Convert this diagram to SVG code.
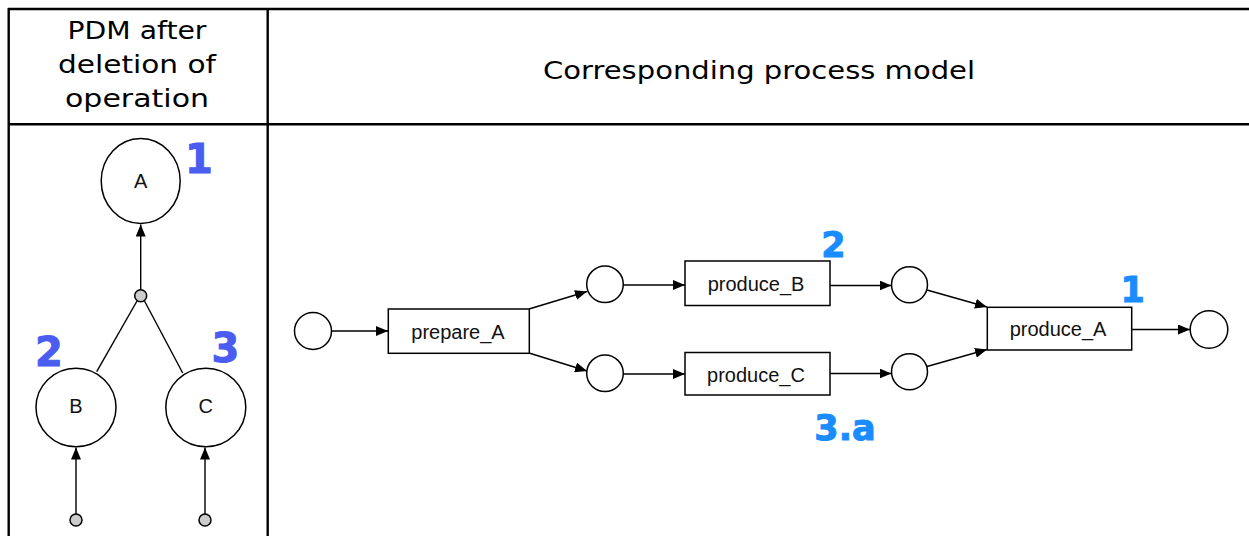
<svg xmlns="http://www.w3.org/2000/svg" width="1249" height="536" viewBox="0 0 1249 536">
<style>
.grid{stroke:#000;stroke-width:2.4;fill:none}
.hdr{font-family:"DejaVu Sans",Verdana,sans-serif;font-size:25px;fill:#000;text-anchor:middle}
.place{fill:#fff;stroke:#000;stroke-width:1.5}
.hub{fill:#cccccc;stroke:#000;stroke-width:1.5}
.task{fill:#fff;stroke:#000;stroke-width:1.5}
.lbl{font-family:"Liberation Sans",Arial,sans-serif;font-size:20px;fill:#111;text-anchor:middle}
.edge{stroke:#000;stroke-width:1.4;fill:none}
.arrow{marker-end:url(#ah)}
.numL{font-family:"DejaVu Sans",Verdana,sans-serif;font-weight:bold;font-size:40px;fill:#4b5cf0;stroke:#4b5cf0;stroke-width:1;text-anchor:middle}
.numR{font-family:"DejaVu Sans",Verdana,sans-serif;font-weight:bold;font-size:35px;fill:#1a8cff;stroke:#1a8cff;stroke-width:1;text-anchor:middle}
</style>
<defs>
<marker id="ah" viewBox="0 0 12 10" refX="12" refY="5" markerWidth="12" markerHeight="10" markerUnits="userSpaceOnUse" orient="auto">
<path d="M0,0 L12,5 L0,10 z" fill="#000"/>
</marker>
</defs>
<rect width="1249" height="536" fill="#fff"/>
<g id="table">
<line class="grid" x1="8" y1="9" x2="1249" y2="9"/>
<line class="grid" x1="8" y1="124.3" x2="1249" y2="124.3"/>
<line class="grid" x1="8.7" y1="8" x2="8.7" y2="536"/>
<line class="grid" x1="267.7" y1="8" x2="267.7" y2="536"/>
<text class="hdr" x="137" y="39" textLength="139" lengthAdjust="spacingAndGlyphs">PDM after</text>
<text class="hdr" x="137" y="73" textLength="158" lengthAdjust="spacingAndGlyphs">deletion of</text>
<text class="hdr" x="137" y="107" textLength="144" lengthAdjust="spacingAndGlyphs">operation</text>
<text class="hdr" x="759" y="79" textLength="432" lengthAdjust="spacingAndGlyphs">Corresponding process model</text>
</g>
<g id="connectors">
<line class="edge arrow" x1="140.7" y1="289.7" x2="140.7" y2="224.5"/>
<line class="edge" x1="137" y1="301" x2="96.7" y2="371.7"/>
<line class="edge" x1="144.5" y1="301" x2="182.7" y2="373"/>
<line class="edge arrow" x1="76" y1="514" x2="76" y2="447.5"/>
<line class="edge arrow" x1="205" y1="514" x2="205" y2="447.5"/>
<line class="edge arrow" x1="331.5" y1="331" x2="388" y2="331"/>
<line class="edge arrow" x1="529" y1="309" x2="587" y2="291.5"/>
<line class="edge arrow" x1="529" y1="353" x2="587" y2="371"/>
<line class="edge arrow" x1="623.3" y1="285" x2="685" y2="285"/>
<line class="edge arrow" x1="623.3" y1="374" x2="685" y2="374"/>
<line class="edge arrow" x1="830" y1="285.5" x2="891.5" y2="285.5"/>
<line class="edge arrow" x1="830" y1="373.5" x2="891.5" y2="373.5"/>
<line class="edge arrow" x1="927" y1="290" x2="987" y2="307"/>
<line class="edge arrow" x1="927" y1="366.5" x2="987" y2="349.5"/>
<line class="edge arrow" x1="1132" y1="329.5" x2="1190" y2="329.5"/>
</g>
<g id="pdm-A"><ellipse class="place" cx="140.7" cy="181" rx="39.5" ry="42.5"/><text class="lbl" x="140.7" y="188">A</text></g>
<g id="pdm-B"><ellipse class="place" cx="76" cy="407.5" rx="40" ry="39.2"/><text class="lbl" x="76" y="413">B</text></g>
<g id="pdm-C"><ellipse class="place" cx="205.8" cy="407.5" rx="40" ry="39.2"/><text class="lbl" x="205.8" y="413">C</text></g>
<g id="pdm-op"><circle class="hub" cx="140.7" cy="295.7" r="6"/></g>
<g id="pdm-inB"><circle class="hub" cx="76" cy="520" r="6"/></g>
<g id="pdm-inC"><circle class="hub" cx="205" cy="520" r="6"/></g>
<g id="pdm-labels">
<text class="numL" x="199" y="173">1</text>
<text class="numL" x="49" y="366">2</text>
<text class="numL" x="225.5" y="362">3</text>
</g>
<g id="p-start"><circle class="place" cx="313" cy="331" r="18.5"/></g>
<g id="t-prepare_A"><rect class="task" x="388.3" y="309" width="141" height="44.3"/><text class="lbl" x="458" y="339">prepare_A</text></g>
<g id="p1"><circle class="place" cx="605" cy="284.3" r="18.3"/></g>
<g id="p2"><circle class="place" cx="605" cy="373.3" r="18.3"/></g>
<g id="t-produce_B"><rect class="task" x="685" y="261" width="145" height="44.5"/><text class="lbl" x="756" y="291">produce_B</text></g>
<g id="t-produce_C"><rect class="task" x="685" y="352.5" width="145" height="42.5"/><text class="lbl" x="756" y="382">produce_C</text></g>
<g id="p3"><circle class="place" cx="909.5" cy="284.7" r="18"/></g>
<g id="p4"><circle class="place" cx="909.5" cy="371.7" r="18"/></g>
<g id="t-produce_A"><rect class="task" x="987.3" y="307.3" width="144.4" height="42.7"/><text class="lbl" x="1058" y="336">produce_A</text></g>
<g id="p-end"><circle class="place" cx="1209" cy="329.5" r="18.8"/></g>
<g id="pm-labels">
<text class="numR" x="833.5" y="256.7">2</text>
<text class="numR" x="845" y="440">3.a</text>
<text class="numR" x="1132.7" y="301.7">1</text>
</g>
</svg>
